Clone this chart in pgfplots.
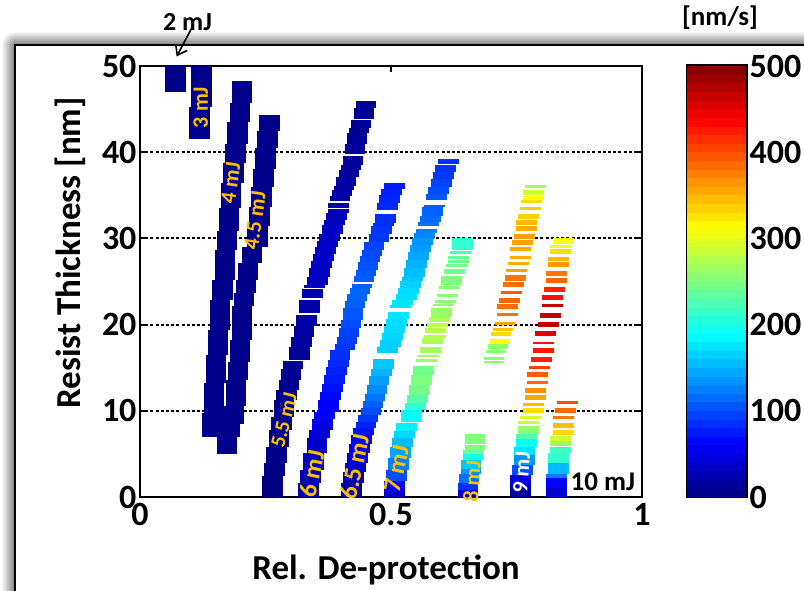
\documentclass[border=0pt]{standalone}
\usepackage{pgfplots}
\pgfplotsset{compat=1.18}
\usepackage{pgfplotstable}
\usepackage{fontspec}
\setmainfont{Carlito}
\usetikzlibrary{arrows.meta}

\definecolor{lblgold}{RGB}{255,192,0}

% one segment of a band: filled rectangle, 0.041 x-units wide, height from the data
\newcommand\segw{10.29}
\pgfdeclareplotmark{seg}{%
  \pgfpathrectangle{\pgfpoint{-\segw pt}{-\seghalf pt}}{\pgfpoint{2*\segw pt}{2*\seghalf pt}}%
  \pgfusepathqfill}
% one step of the colour scale: 59pt wide, 10 nm/s high
\pgfdeclareplotmark{cbstep}{%
  \pgfpathrectangle{\pgfpoint{-29.5pt}{-4.5pt}}{\pgfpoint{59pt}{9pt}}%
  \pgfusepathqfill}

% columns: left edge of segment, bottom, top, development rate [nm/s]
\pgfplotstableread{
x y0 y1 v
0.050 47.0 50.0 5
}\bandTwo
\pgfplotstableread{
x y0 y1 v
0.102 45.2 50.0 5
0.098 41.5 45.2 5
}\bandThree
\pgfplotstableread{
x y0 y1 v
0.183 45.7 48.3 5
0.179 43.5 45.7 5
0.174 41.0 43.5 5
0.170 38.7 41.0 5
0.166 36.4 38.7 5
0.161 33.5 36.4 5
0.157 30.8 33.5 5
0.153 28.7 30.8 5
0.149 25.2 28.7 5
0.144 22.9 25.2 5
0.139 19.4 22.9 5
0.135 16.5 19.4 5
0.131 13.2 16.5 5
0.127 9.7 13.2 5
0.124 7.0 9.7 5
}\bandFour
\pgfplotstableread{
x y0 y1 v
0.237 42.5 44.3 5
0.233 40.5 42.5 5
0.229 38.1 40.5 5
0.225 36.0 38.1 5
0.221 33.7 36.0 5
0.217 31.4 33.7 5
0.213 29.0 31.4 5
0.203 27.1 29.0 5
0.195 25.2 27.1 5
0.191 23.7 25.2 5
0.187 22.1 23.7 5
0.183 18.2 22.1 5
0.179 15.7 18.2 5
0.175 13.6 15.7 5
0.171 10.5 13.6 5
0.166 8.5 10.5 5
0.159 7.0 8.5 5
0.153 5.0 7.0 5
}\bandFourHalf
\pgfplotstableread{
x y0 y1 v
0.430 45.1 45.9 10
0.426 43.9 45.1 10
0.420 42.8 43.7 10
0.416 42.2 42.8 12
0.412 41.0 42.2 12
0.408 39.8 41.0 12
0.404 38.5 39.6 14
0.400 37.9 38.5 14
0.396 37.1 37.9 14
0.390 36.1 37.1 16
0.386 35.6 36.1 16
0.382 34.9 35.6 18
0.378 34.3 34.9 18
0.375 33.5 34.1 22
0.375 33.0 33.4 24
0.371 32.1 33.0 28
0.367 31.6 32.1 30
0.363 30.5 31.6 32
0.357 29.7 30.5 34
0.353 29.0 29.7 35
0.349 28.2 29.0 35
0.345 27.4 28.2 35
0.341 26.6 27.4 34
0.337 25.5 26.6 32
0.333 24.6 25.5 30
0.327 24.3 24.6 28
0.323 23.1 24.1 24
0.317 21.3 22.9 20
0.311 19.8 21.1 18
0.306 18.6 19.8 16
0.301 17.4 18.6 14
0.297 15.9 17.4 12
0.284 14.9 15.8 10
0.280 13.6 14.9 10
0.276 12.4 13.6 8
0.271 11.3 12.4 8
0.266 9.3 11.3 6
0.261 7.8 9.3 6
0.256 5.8 7.8 4
0.251 3.9 5.8 4
0.247 2.4 3.9 2
0.243 0.0 2.4 2
}\bandFiveHalf
\pgfplotstableread{
x y0 y1 v
0.486 35.7 36.4 75
0.480 35.0 35.7 78
0.476 34.1 35.0 80
0.472 33.3 34.1 82
0.468 31.8 32.8 85
0.464 31.4 31.8 86
0.460 30.5 31.4 88
0.456 29.6 30.5 90
0.446 28.7 29.6 95
0.442 28.0 28.7 98
0.438 27.3 28.0 100
0.434 26.3 27.3 102
0.430 25.6 26.3 105
0.426 24.9 25.6 108
0.422 24.3 24.7 110
0.418 23.5 24.3 112
0.412 22.7 23.5 112
0.408 21.9 22.7 110
0.404 20.5 21.9 105
0.400 19.6 20.5 100
0.396 18.6 19.6 95
0.392 17.8 18.6 92
0.388 17.1 17.8 88
0.378 15.9 17.1 85
0.375 15.1 15.9 82
0.371 14.2 15.1 78
0.367 13.1 14.2 75
0.363 12.2 13.1 70
0.359 11.3 12.2 66
0.355 9.9 11.3 62
0.347 9.1 9.9 58
0.343 7.8 9.1 52
0.337 6.8 7.8 45
0.332 5.1 6.8 38
0.325 3.1 5.1 30
0.319 1.6 3.1 25
0.315 0.0 1.6 20
}\bandSix
\pgfplotstableread{
x y0 y1 v
0.594 38.6 39.2 85
0.588 37.7 38.5 88
0.584 36.9 37.7 90
0.580 36.0 36.9 95
0.574 35.2 36.0 100
0.570 34.4 35.2 105
0.566 33.6 33.9 108
0.562 32.6 33.6 110
0.558 31.9 32.6 115
0.554 31.4 31.9 118
0.550 30.6 31.1 125
0.546 30.0 30.6 130
0.542 29.2 30.0 135
0.538 28.4 29.2 140
0.534 27.5 28.4 145
0.530 26.6 27.5 150
0.526 25.5 26.6 155
0.522 25.0 25.5 160
0.518 24.2 25.0 165
0.514 23.6 24.2 170
0.510 22.9 23.6 172
0.502 22.3 22.9 175
0.498 21.9 22.3 175
0.494 20.7 21.5 175
0.490 19.8 20.7 172
0.486 19.0 19.8 170
0.482 18.2 19.0 168
0.478 17.4 18.2 165
0.472 16.7 17.4 165
0.464 14.9 16.0 160
0.460 14.0 14.9 150
0.456 13.0 14.0 140
0.452 12.0 13.0 130
0.448 11.1 12.0 120
0.444 10.3 11.1 110
0.440 9.5 10.3 100
0.434 8.7 9.5 90
0.430 8.0 8.7 80
0.425 7.2 8.0 70
0.421 6.2 7.2 62
0.417 5.1 6.2 55
0.413 3.9 5.1 45
0.409 2.9 3.9 35
0.405 1.6 2.9 25
0.401 0.0 1.6 15
}\bandSixHalf
\pgfplotstableread{
x y0 y1 v
0.622 28.7 30.0 212
0.618 28.2 28.5 225
0.614 27.6 28.0 235
0.614 27.1 27.5 240
0.610 26.7 27.0 243
0.606 25.9 26.5 245
0.600 24.6 25.6 250
0.596 24.1 24.5 252
0.592 23.2 23.6 255
0.588 22.5 22.9 256
0.584 22.1 22.4 258
0.580 20.9 21.9 262
0.576 20.3 20.9 270
0.572 19.7 20.2 275
0.568 19.0 19.6 275
0.566 18.4 18.8 275
0.562 17.7 18.4 272
0.558 16.7 17.4 268
0.554 16.2 16.5 265
0.550 15.7 16.0 262
0.544 14.2 15.2 243
0.540 13.0 14.2 250
0.536 11.8 13.0 245
0.532 10.9 11.8 231
0.528 10.1 10.9 212
0.520 8.7 10.1 187
0.510 7.6 8.6 181
0.506 6.8 7.6 168
0.502 5.8 6.8 155
0.498 4.5 5.8 143
0.494 3.1 4.5 125
0.490 1.8 3.1 100
0.486 0.6 1.8 62
0.486 0.0 0.6 35
}\bandSeven
\pgfplotstableread{
x y0 y1 v
0.767 35.8 36.2 262
0.763 35.0 35.6 290
0.763 34.5 34.9 312
0.759 34.1 34.5 330
0.757 33.3 33.7 337
0.753 32.2 32.8 335
0.749 31.6 32.1 347
0.749 30.8 31.4 352
0.745 29.9 30.5 360
0.741 29.2 29.8 358
0.737 28.5 29.0 355
0.737 27.6 28.0 352
0.733 26.9 27.3 352
0.729 26.1 26.5 358
0.727 25.1 25.7 380
0.723 24.4 24.9 384
0.719 23.6 23.9 393
0.715 22.5 23.1 387
0.711 21.8 22.4 384
0.711 21.0 21.4 380
0.707 20.0 20.3 358
0.703 19.3 19.6 340
0.699 18.7 19.1 330
0.697 17.7 18.3 312
0.693 17.2 17.7 256
0.689 16.7 17.1 256
0.685 15.9 16.2 256
0.685 15.5 15.8 256
0.647 6.7 7.3 250
0.647 6.1 6.7 252
0.647 5.5 6.0 250
0.643 5.0 5.5 240
0.643 4.3 5.0 200
0.639 3.3 4.3 162
0.639 2.7 3.3 137
0.635 1.6 2.7 118
0.633 0.8 1.6 87
0.633 0.0 0.8 40
}\bandEight
\pgfplotstableread{
x y0 y1 v
0.823 29.4 30.0 312
0.817 28.9 29.2 305
0.817 28.2 28.8 330
0.813 27.4 27.8 347
0.813 26.7 27.3 362
0.809 25.6 26.2 380
0.809 24.8 25.4 387
0.805 23.8 24.4 422
0.801 22.9 23.4 431
0.801 22.0 22.4 468
0.797 20.8 21.4 468
0.793 19.7 20.3 468
0.787 18.7 19.3 452
0.783 17.7 18.0 431
0.783 16.7 17.3 427
0.779 15.7 16.2 422
0.775 14.8 15.2 406
0.771 13.9 14.5 393
0.771 13.1 13.5 387
0.767 12.1 12.6 368
0.767 11.3 11.8 355
0.763 10.6 10.9 347
0.763 9.7 10.3 330
0.757 9.1 9.4 290
0.753 8.5 8.8 287
0.753 7.3 8.2 256
0.749 6.7 7.3 225
0.749 5.8 6.7 190
0.745 4.9 5.8 175
0.745 3.7 4.9 137
0.741 2.6 3.7 100
0.737 1.3 2.6 50
0.737 0.0 1.3 15
}\bandNine
\pgfplotstableread{
x y0 y1 v
0.831 10.8 11.1 400
0.827 9.7 10.3 387
0.823 9.0 9.4 380
0.823 8.0 8.6 343
0.823 7.2 7.8 330
0.817 6.5 7.1 290
0.817 5.9 6.5 262
0.817 5.1 5.8 218
0.813 3.9 5.1 212
0.813 2.7 3.9 155
0.809 2.2 2.7 125
0.809 1.0 2.2 62
0.809 0.0 1.0 40
}\bandTen

\pgfplotsset{
  band/.style={scatter, only marks, mark=seg, point meta=explicit,
    visualization depends on={4.31*(\thisrow{y1}-\thisrow{y0}) \as \seghalf}},
  boldticks/.style={
    /pgf/number format/assume math mode=true,
    tick label style={font=\fontsize{34}{34}\selectfont\bfseries}},
}
\newcommand\band[1]{\addplot[band] table[x expr=\thisrow{x}+0.0205,
  y expr=0.5*(\thisrow{y0}+\thisrow{y1}), meta=v]{#1};}

\begin{document}
\begin{tikzpicture}
% page: 804 x 591, axis box corner at (0,0)
\path[use as bounding box] (-140pt,-94pt) rectangle (664pt,497pt);

% framed panel with soft shadow on top and left
\shade[top color=white, bottom color=black!50] (-125pt,452pt) rectangle (700pt,466pt);
\shade[left color=white, right color=black!50] (-139pt,-120pt) rectangle (-125pt,452pt);
\begin{scope}
  \clip (-139pt,452pt) rectangle (-125pt,466pt);
  \shade[inner color=black!50, outer color=white] (-125pt,452pt) circle (14pt);
\end{scope}
\fill[white] (-125pt,-120pt) rectangle (700pt,452pt);
\draw[line width=2.2pt] (-125pt,-120pt) -- (-125pt,452pt) -- (700pt,452pt);

\begin{axis}[
  scale only axis, width=502pt, height=431pt,
  at={(0pt,0pt)}, anchor=south west,
  xmin=0, xmax=1, ymin=0, ymax=50,
  xtick={0,0.5,1}, xticklabels={0,0.5,1},
  ytick={0,10,...,50},
  ymajorgrids,
  grid style={black, line width=2pt, dash pattern=on 3pt off 2.2pt},
  axis line style={line width=2.4pt},
  tick style={black, line width=2pt}, major tick length=6pt, tick align=inside,
  boldticks,
  xticklabel style={yshift=-3pt},
  label style={font=\fontsize{35}{35}\selectfont\bfseries},
  xlabel={Rel. De-protection},
  ylabel={Resist Thickness [nm]},
  xlabel style={at={(axis description cs:0.49,-0.169)}, anchor=center},
  ylabel style={at={(axis description cs:-0.139,0.566)}, anchor=center},
  colormap/jet, point meta min=0, point meta max=500,
  clip=false,
]
\band{\bandTwo}
\band{\bandThree}
\band{\bandFour}
\band{\bandFourHalf}
\band{\bandFiveHalf}
\band{\bandSix}
\band{\bandSixHalf}
\band{\bandSeven}
\band{\bandEight}
\band{\bandNine}
\band{\bandTen}

% anchor points of the dose labels
\coordinate (d3)  at (axis cs:0.121,45.2);
\coordinate (d4)  at (axis cs:0.181,36.4);
\coordinate (d45) at (axis cs:0.229,32.1);
\coordinate (d55) at (axis cs:0.287,8.9);
\coordinate (d6)  at (axis cs:0.342,2.7);
\coordinate (d65) at (axis cs:0.427,3.5);
\coordinate (d7)  at (axis cs:0.511,3.3);
\coordinate (d8)  at (axis cs:0.661,1.8);
\coordinate (d9)  at (axis cs:0.760,2.9);
\coordinate (d10) at (axis cs:0.922,1.74);
\coordinate (d2)  at (axis cs:0.0946,55.1);
\coordinate (a0)  at (axis cs:0.103,54.4);
\coordinate (a1)  at (axis cs:0.073,51.1);
\end{axis}

% colour scale
\begin{axis}[
  scale only axis, width=59pt, height=431pt,
  at={(547pt,0pt)}, anchor=south west,
  xmin=0, xmax=1, ymin=0, ymax=500,
  xtick=\empty, ytick={0,100,...,500},
  ytick pos=both, yticklabel pos=right,
  axis line style={line width=3pt},
  tick style={black, line width=2pt}, major tick length=5pt, tick align=inside,
  boldticks,
  colormap/jet, point meta min=0, point meta max=500,
  axis on top, clip=false,
]
\addplot[scatter, only marks, mark=cbstep, point meta=y] coordinates {
(0.5,5) (0.5,15) (0.5,25) (0.5,35) (0.5,45) (0.5,55) (0.5,65) (0.5,75) (0.5,85) (0.5,95)
(0.5,105) (0.5,115) (0.5,125) (0.5,135) (0.5,145) (0.5,155) (0.5,165) (0.5,175) (0.5,185) (0.5,195)
(0.5,205) (0.5,215) (0.5,225) (0.5,235) (0.5,245) (0.5,255) (0.5,265) (0.5,275) (0.5,285) (0.5,295)
(0.5,305) (0.5,315) (0.5,325) (0.5,335) (0.5,345) (0.5,355) (0.5,365) (0.5,375) (0.5,385) (0.5,395)
(0.5,405) (0.5,415) (0.5,425) (0.5,435) (0.5,445) (0.5,455) (0.5,465) (0.5,475) (0.5,485) (0.5,495)
};
\end{axis}

% dose labels
\begin{scope}[every node/.style={font=\fontsize{22}{22}\selectfont\bfseries, text=lblgold, inner sep=0pt}]
\node[rotate=90] at (d3) {3 mJ};
\node[rotate=82] at (d4) {4 mJ};
\node[rotate=82] at (d45) {4.5 mJ};
\node[rotate=76, font=\fontsize{21}{21}\selectfont\bfseries] at (d55) {5.5 mJ};
\node[rotate=78, font=\fontsize{25}{25}\selectfont\bfseries] at (d6) {6 mJ};
\node[rotate=78, font=\fontsize{25}{25}\selectfont\bfseries] at (d65) {6.5 mJ};
\node[rotate=78, font=\fontsize{25}{25}\selectfont\bfseries] at (d7) {7 mJ};
\node[rotate=86] at (d8) {8 mJ};
\node[rotate=86, text=white] at (d9) {9 mJ};
\end{scope}
\node[font=\fontsize{27}{27}\selectfont\bfseries] at (d10) {10 mJ};
\node[font=\fontsize{26}{26}\selectfont\bfseries] at (d2) {2 mJ};
\draw[line width=1.6pt, -{Straight Barb[length=9pt,width=13pt]}] (a0) -- (a1);
\node[font=\fontsize{27}{27}\selectfont\bfseries] at (580pt,479pt) {[nm/s]};
\end{tikzpicture}
\end{document}
